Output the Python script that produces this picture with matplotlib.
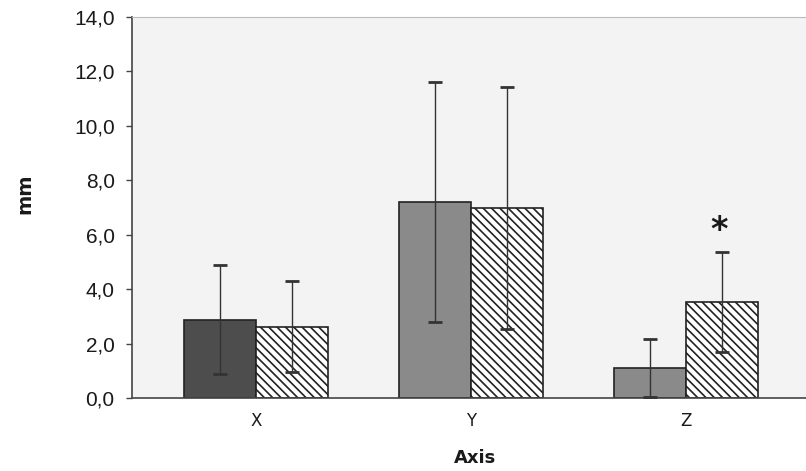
import matplotlib
matplotlib.use("Agg")
import matplotlib.pyplot as plt
import numpy as np

categories = ["X", "Y", "Z"]
series1_means = [2.87, 7.2, 1.1]
series1_sd = [2.0, 4.42, 1.07]
series2_means = [2.62, 6.98, 3.53]
series2_sd = [1.68, 4.43, 1.84]
series1_colors = ["#4d4d4d", "#8a8a8a", "#8a8a8a"]
yticks = [0, 2, 4, 6, 8, 10, 12, 14]

plt.rcParams['font.family'] = ['Liberation Sans', 'DejaVu Sans']
plt.rcParams['hatch.linewidth'] = 1.2

fig = plt.figure(figsize=(8.06, 4.71), dpi=100)
ax = fig.add_axes([132/806, 1-398/471, 1-132/806, 381/471])
ax.set_facecolor("#f3f3f3")

x = np.arange(len(categories))
w = 0.335
ax.bar(x - w/2, series1_means, w, color=series1_colors, edgecolor="#222222", linewidth=1.2, zorder=2)
ax.bar(x + w/2, series2_means, w, color="white", edgecolor="#222222", hatch="\\\\\\\\", linewidth=1.2, zorder=2)
ax.errorbar(x - w/2, series1_means, yerr=series1_sd, fmt="none", ecolor="#333333", elinewidth=1.0, capsize=5, capthick=2, zorder=3)
ax.errorbar(x + w/2, series2_means, yerr=series2_sd, fmt="none", ecolor="#333333", elinewidth=1.0, capsize=5, capthick=2, zorder=3)

ax.text(x[2] + w/2 - 0.01, series2_means[2] + series2_sd[2] + 0.8, "*", ha="center", va="center",
        fontsize=24, fontweight="bold", color="#1a1a1a", family="DejaVu Sans")

ax.set_xlim(-0.577, 2.56)
ax.set_ylim(0, 14)
ax.set_yticks(yticks)
ax.set_yticklabels([f"{v:.1f}".replace(".", ",") for v in yticks], fontsize=15, color="#1a1a1a")
ax.set_xticks(x)
ax.set_xticklabels(categories, fontsize=12, color="#1a1a1a", family="DejaVu Sans")
ax.tick_params(axis="x", length=0, pad=10)
ax.tick_params(axis="y", length=4.5, width=1, color="#444444", pad=8)

ax.spines["right"].set_visible(False)
ax.spines["top"].set_linestyle((0, (2, 1)))
ax.spines["top"].set_color("#bbbbbb")
ax.spines["top"].set_linewidth(0.8)
ax.spines["left"].set_color("#444444")
ax.spines["bottom"].set_color("#444444")
ax.spines["left"].set_linewidth(1.2)
ax.spines["bottom"].set_linewidth(1.2)

fig.text(25/806, 1-194/471, "mm", rotation=90, ha="center", va="center", fontsize=14,
         fontweight="bold", color="#1a1a1a", family="DejaVu Sans")
fig.text(475/806, 1-458/471, "Axis", ha="center", va="center", fontsize=13,
         fontweight="bold", color="#1a1a1a", family="DejaVu Sans")

fig.savefig("out.png", dpi=100)
